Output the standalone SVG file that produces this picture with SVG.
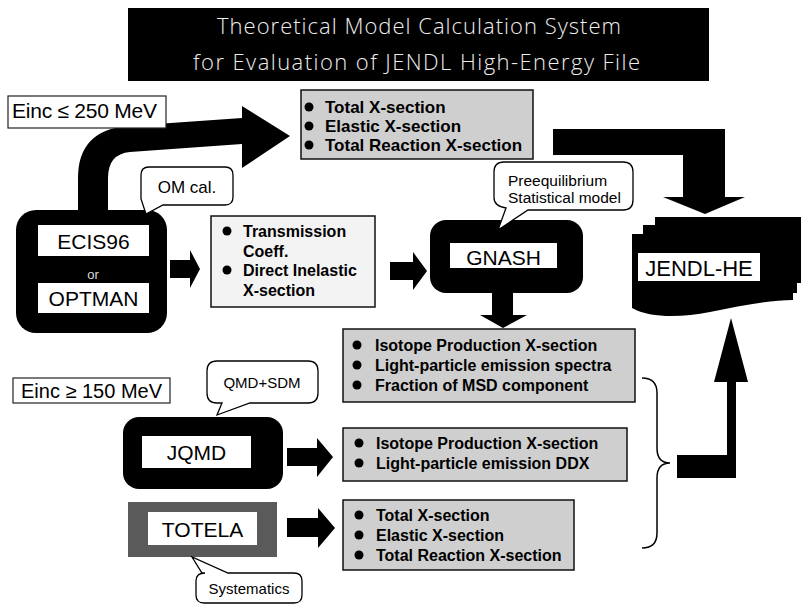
<svg xmlns="http://www.w3.org/2000/svg" width="801" height="605" viewBox="0 0 801 605">
<style>
text{font-family:"Liberation Sans",Arial,sans-serif;fill:#000}
.title{font-family:"Open Sans","Liberation Sans",sans-serif;font-weight:300;font-size:22px;fill:#eeeeee}
.blt{font-size:16px;font-weight:bold}
.big{font-size:17px;font-weight:bold}
.node{font-size:21px;text-anchor:middle}
.bub{font-size:15px}
.gray{fill:#cfcfcf;stroke:#111;stroke-width:1.5}
.light{fill:#f3f3f3;stroke:#111;stroke-width:1.5}
.wbox{fill:#fff}
.blk{fill:#000}
.bubble{fill:#fff;stroke:#000;stroke-width:1.3}
.einc{fill:#fff;stroke:#222;stroke-width:1.2}
</style>
<defs>
<circle id="dot" r="4.5" fill="#000"/>
</defs>
<rect width="801" height="605" fill="#fff"/>

<g id="title">
<rect x="128" y="8" width="581" height="73" fill="#000"/>
<text class="title" x="217" y="34" textLength="404">Theoretical Model Calculation System</text>
<text class="title" x="193" y="70" textLength="447">for Evaluation of JENDL High-Energy File</text>
</g>

<g id="connectors">
<path class="blk" d="M78,211 V178 Q78,130 128,126 L242,118 V106 L290,136 L242,168 V144 L130,152 Q108,154 108,178 V211 Z"/>
<path class="blk" d="M553,129 H725 V197 H745 L705,214 L663,197 H683 V155 H553 Z"/>
<path class="blk" d="M170,260 H190 V250 L200,269 L190,288 V278 H170 Z"/>
<path class="blk" d="M390,262 H413 V252 L427,271 L413,290 V280 H390 Z"/>
<path class="blk" d="M492,292 H513 V315 H527 L503,328 L480,315 H492 Z"/>
<path class="blk" d="M287,448 H317 V438 L333,457 L317,477 V466 H287 Z"/>
<path class="blk" d="M287,518 H318 V508 L335,528 L318,548 V537 H287 Z"/>
<path class="blk" d="M677,455 H727 V382 H714 L731,318 L748,382 H736 V478 H677 Z"/>
<path d="M642,378 Q657,378 657,393 V448 Q657,463 670,463 Q657,463 657,478 V533 Q657,548 642,548" fill="none" stroke="#000" stroke-width="1.5"/>
</g>

<g id="einc250">
<rect class="einc" x="8" y="96" width="158" height="32"/>
<text x="12" y="118" font-size="21" textLength="145">Einc ≤ 250 MeV</text>
</g>

<g id="topbox">
<rect class="gray" x="301" y="90" width="232" height="69"/>
<use href="#dot" x="309" y="107"/>
<use href="#dot" x="309" y="126"/>
<use href="#dot" x="309" y="145"/>
<text class="big" x="325" y="113">Total X-section</text>
<text class="big" x="325" y="132">Elastic X-section</text>
<text class="big" x="325" y="151">Total Reaction X-section</text>
</g>

<g id="ecis">
<rect x="16" y="210" width="151" height="123" rx="20" fill="#000"/>
<rect class="wbox" x="38" y="225" width="111" height="31"/>
<rect class="wbox" x="38" y="283" width="111" height="30"/>
<text class="node" x="93.5" y="249">ECIS96</text>
<text x="93" y="279" font-size="13" text-anchor="middle" style="fill:#ddd">or</text>
<text class="node" x="93.5" y="306">OPTMAN</text>
</g>

<g id="omcal">
<path class="bubble" d="M149,167 H225 Q233,167 233,175 V197 Q233,205 225,205 H163 L146,214 L141,199 V175 Q141,167 149,167 Z"/>
<text x="187" y="193" font-size="17" text-anchor="middle">OM cal.</text>
</g>

<g id="transbox">
<rect class="light" x="211" y="216" width="164" height="91"/>
<use href="#dot" x="227" y="231"/>
<use href="#dot" x="227" y="270"/>
<text class="blt" x="243" y="237">Transmission</text>
<text class="blt" x="243" y="256.5">Coeff.</text>
<text class="blt" x="243" y="276">Direct Inelastic</text>
<text class="blt" x="243" y="295.5">X-section</text>
</g>

<g id="gnash">
<rect x="430" y="220" width="153" height="73" rx="16" fill="#000"/>
<rect class="wbox" x="450" y="243" width="107" height="25"/>
<text class="node" x="503.5" y="265">GNASH</text>
</g>

<g id="prebubble">
<path class="bubble" d="M504,162 H623 Q633,162 633,172 V200 Q633,210 623,210 H528 L498,230 L506,208 Q494,206 494,198 V172 Q494,162 504,162 Z"/>
<text x="508" y="186" font-size="15.5">Preequilibrium</text>
<text x="508" y="203" font-size="15.5">Statistical model</text>
</g>

<g id="jendl">
<path fill="#000" d="M655,217 H801 V283 H797 V293 H793 V300 C770,300 740,306 710,312 C680,318 650,318 632,308 V234 H643 V225 H655 Z"/>
<rect class="wbox" x="638" y="253" width="122" height="28"/>
<text x="699" y="276" font-size="22" text-anchor="middle">JENDL-HE</text>
</g>

<g id="gnashout">
<rect class="gray" x="343" y="329" width="292" height="73"/>
<use href="#dot" x="357" y="345"/>
<use href="#dot" x="357" y="365"/>
<use href="#dot" x="357" y="385"/>
<text class="blt" x="375" y="351">Isotope Production X-section</text>
<text class="blt" x="375" y="371">Light-particle emission spectra</text>
<text class="blt" x="375" y="391">Fraction of MSD component</text>
</g>

<g id="einc150">
<rect class="einc" x="13" y="378" width="157" height="25"/>
<text x="21" y="397.5" font-size="20">Einc ≥ 150 MeV</text>
</g>

<g id="qmdbubble">
<path class="bubble" d="M217,361 H308 Q318,361 318,371 V393 Q318,403 308,403 H250 L217,415 L222,403 H217 Q207,403 207,393 V371 Q207,361 217,361 Z"/>
<text class="bub" x="262" y="388" text-anchor="middle">QMD+SDM</text>
</g>

<g id="jqmd">
<rect x="123" y="417" width="160" height="72" rx="16" fill="#000"/>
<rect class="wbox" x="142" y="436" width="109" height="32"/>
<text class="node" x="196.5" y="460">JQMD</text>
</g>

<g id="jqmdout">
<rect class="gray" x="343" y="428" width="284" height="53"/>
<use href="#dot" x="359" y="443"/>
<use href="#dot" x="359" y="463"/>
<text class="blt" x="376" y="449">Isotope Production X-section</text>
<text class="blt" x="376" y="469">Light-particle emission DDX</text>
</g>

<g id="totela">
<rect x="128" y="502" width="149" height="55" fill="#5a5a5a"/>
<rect class="wbox" x="148" y="512" width="109" height="33"/>
<text class="node" x="202.5" y="537">TOTELA</text>
</g>

<g id="sysbubble">
<path class="bubble" d="M205,573 H202 L192,557 L228,573 H294 Q302,573 302,581 V595 Q302,603 294,603 H204 Q196,603 196,595 V581 Q196,573 205,573 Z"/>
<text class="bub" x="249" y="594" text-anchor="middle">Systematics</text>
</g>

<g id="totelaout">
<rect class="gray" x="343" y="500" width="231" height="70"/>
<use href="#dot" x="359" y="515"/>
<use href="#dot" x="359" y="535"/>
<use href="#dot" x="359" y="555"/>
<text class="blt" x="376" y="521">Total X-section</text>
<text class="blt" x="376" y="541">Elastic X-section</text>
<text class="blt" x="376" y="561">Total Reaction X-section</text>
</g>
</svg>
